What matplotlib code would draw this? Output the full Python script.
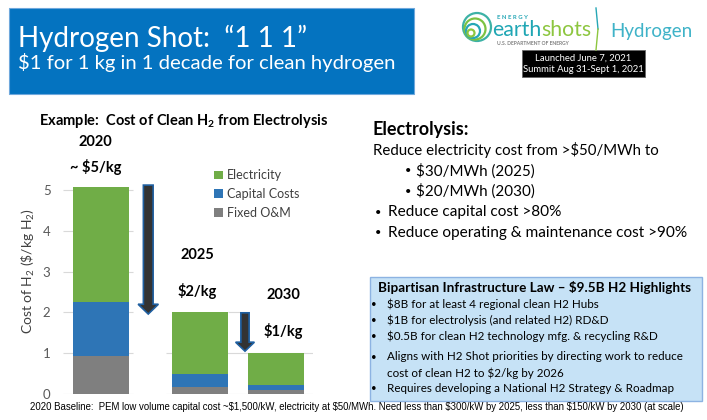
import matplotlib
matplotlib.use("Agg")
import matplotlib.pyplot as plt
import matplotlib.patches as patches

plt.rcParams['font.family'] = ['Lato', 'DejaVu Sans']
plt.rcParams['mathtext.fontset'] = 'custom'
plt.rcParams['mathtext.rm'] = 'Lato'
plt.rcParams['mathtext.bf'] = 'Lato:bold'
plt.rcParams['mathtext.it'] = 'Lato:italic'

# data
years = ['2020', '2025', '2030']
cost_labels = ['~ \\$5/kg', '\\$2/kg', '\\$1/kg']
fixed_om = [0.93, 0.18, 0.09]
capital = [1.32, 0.30, 0.13]
electricity = [2.82, 1.53, 0.79]
yticks = [0, 1, 2, 3, 4, 5]

electrolysis_lines = ['Reduce electricity cost from >\\$50/MWh to']
electrolysis_sub = ['\\$30/MWh (2025)', '\\$20/MWh (2030)']
electrolysis_bullets = ['Reduce capital cost >80%',
                        'Reduce operating & maintenance cost >90%']
law_title = 'Bipartisan Infrastructure Law \u2013 \\$9.5B H2 Highlights'
law_bullets = ['\\$8B for at least 4 regional clean H2 Hubs',
               '\\$1B for electrolysis (and related H2) RD&D',
               '\\$0.5B for clean H2 technology mfg. & recycling R&D',
               'Aligns with H2 Shot priorities by directing work to reduce\ncost of clean H2 to \\$2/kg by 2026',
               'Requires developing a National H2 Strategy & Roadmap']
footer = ('2020 Baseline:  PEM low volume capital cost ~\\$1,500/kW, electricity at \\$50/MWh. '
          'Need less than \\$300/kW by 2025, less than \\$150/kW by 2030 (at scale)')

W, H = 707, 420
fig = plt.figure(figsize=(W / 100, H / 100), dpi=100)

# slide background in pixel coordinates
bg = fig.add_axes([0, 0, 1, 1])
bg.set_xlim(0, W)
bg.set_ylim(H, 0)
bg.axis('off')

# header box
bg.add_patch(patches.Rectangle((9, 8), 405, 86, fc='#0473C0', ec='#6FA8DC', lw=0.8))
bg.text(18, 38, 'Hydrogen Shot:  \u201c1 1 1\u201d', color='white', fontsize=20, va='center')
bg.text(18, 63, '\\$1 for 1 kg in 1 decade for clean hydrogen', color='white', fontsize=14.6, va='center')

# earthshots logo
for cx, cy, r, col in [(477, 27, 14, '#3DB2A6'), (475, 29, 10.5, '#7CC242'),
                       (473, 31, 7, '#26A7B6'), (471, 33, 3.5, '#8DC63F')]:
    bg.add_patch(patches.Circle((cx, cy), r, fill=False, ec=col, lw=1.6))
bg.text(497, 17.5, 'E N E R G Y', color='#26A7B6', fontsize=4.3, fontweight='bold', va='center')
earth = bg.text(492, 36, 'earth', color='#1FA6B4', fontsize=15.3, va='baseline')
bg.annotate('shots', xy=(1, 0), xycoords=earth, color='#8DC63F', fontsize=15.3, va='bottom')
bg.text(497, 43.5, 'U.S. DEPARTMENT OF ENERGY', color='#808080', fontsize=3.6, fontweight='bold', va='center')
bg.plot([596, 598], [8, 29], color='#26A7B6', lw=1)
bg.plot([598, 596], [29, 50], color='#8DC63F', lw=1)
bg.text(610, 32, 'Hydrogen', color='#3FB3C8', fontsize=13.5, va='center')
bg.add_patch(patches.Rectangle((522, 50), 123, 27, fc='black', ec='#666666', lw=0.6))
bg.text(583.5, 58.5, 'Launched June 7, 2021', color='white', fontsize=6.8, ha='center', va='center')
bg.text(583.5, 70, 'Summit Aug 31-Sept 1, 2021', color='white', fontsize=6.8, ha='center', va='center')

# chart title
bg.text(184, 121, 'Example:  Cost of Clean H$_\\mathbf{2}$ from Electrolysis', fontsize=10.5,
        fontweight='bold', ha='center', va='center', color='black')

# right hand text
bg.text(373, 130, 'Electrolysis:', fontsize=13, fontweight='bold', va='center', color='black')
bg.text(373, 150, electrolysis_lines[0], fontsize=10.8, va='center', color='black')
for i, s in enumerate(electrolysis_sub):
    yy = 171 + i * 20.5
    bg.text(408, yy, '\u2022', fontsize=8, ha='center', va='center')
    bg.text(416, yy, s, fontsize=10.9, va='center')
for i, s in enumerate(electrolysis_bullets):
    yy = 212 + i * 21
    bg.text(378, yy, '\u2022', fontsize=8, ha='center', va='center')
    bg.text(388, yy, s, fontsize=11.1, va='center')

# light blue box
bg.add_patch(patches.Rectangle((370, 277), 332, 124, fc='#C6E2F6', ec='#8DB3E2', lw=1))
bg.text(534, 288, law_title, fontsize=9.7, fontweight='bold', ha='center', va='center')
law_y = [304, 320, 336, 365, 388]
for yy, s in zip(law_y, law_bullets):
    bg.text(374, yy if '\n' not in s else yy - 7.5, '\u2022', fontsize=7, ha='center', va='center')
    bg.text(387, yy, s, fontsize=8.4, va='center', linespacing=1.55)

bg.text(30, 407, footer, fontsize=6.9, family=['Liberation Sans', 'DejaVu Sans'], va='center')

# chart
px_unit = 75.0
x0_px = 101
ax_left, ax_right = 63, 313
y0_px, y_unit = 394, 40.8
ytop = 5.5
ax = fig.add_axes([ax_left / W, (H - y0_px) / H, (ax_right - ax_left) / W, ytop * y_unit / H])
ax.set_xlim((ax_left - x0_px) / px_unit, (ax_right - x0_px) / px_unit)
ax.set_ylim(0, ytop)
ax.patch.set_alpha(0)

xpos = [0, 1.32, 2.33]
width = 0.75
bottom2 = [a + b for a, b in zip(fixed_om, capital)]
b1 = ax.bar(xpos, fixed_om, width, color='#7F7F7F', label='Fixed O&M', zorder=2)
b2 = ax.bar(xpos, capital, width, bottom=fixed_om, color='#2E75B6', label='Capital Costs', zorder=2)
b3 = ax.bar(xpos, electricity, width, bottom=bottom2, color='#70AD47', label='Electricity', zorder=2)

# gridline pieces (the slide covers parts of them)
def xd(p):
    return (p - x0_px) / px_unit
for t in yticks:
    ax.hlines(t, xd(63), xd(133), color='#D9D9D9', lw=0.8, zorder=1)
    if t <= 1:
        ax.hlines(t, xd(166), xd(313), color='#D9D9D9', lw=0.8, zorder=1)
    if t == 2:
        ax.hlines(t, xd(228), xd(240), color='#D9D9D9', lw=0.8, zorder=1)

ax.set_yticks(yticks)
ax.set_xticks([])
ax.tick_params(axis='y', length=0, pad=9, labelsize=9.5, labelcolor='#595959')
for s in ax.spines.values():
    s.set_visible(False)
ax.set_ylabel('Cost of H$_2$ (\\$/kg H$_2$)', fontsize=10, color='#404040')
ax.yaxis.set_label_coords(-0.104, 0.55)

# arrows
ax.add_patch(patches.FancyArrow(0.63, 5.12, 0, -3.16, width=0.13, head_width=0.27, head_length=0.24,
                                length_includes_head=True, fc='#333333', ec='#1F5FA0', lw=1.2,
                                zorder=3, clip_on=False))
ax.add_patch(patches.FancyArrow(1.92, 1.99, 0, -0.94, width=0.11, head_width=0.25, head_length=0.22,
                                length_includes_head=True, fc='#333333', ec='#1F5FA0', lw=1.2,
                                zorder=3, clip_on=False))

# year / cost labels above bars
year_y = [6.18, 3.41, 2.43]
cost_y = [5.56, 2.52, 1.54]
label_dx = [-0.07, -0.04, 0.1]
for xp, dx, yr, c, yy, cy in zip(xpos, label_dx, years, cost_labels, year_y, cost_y):
    ax.text(xp + dx, yy, yr, fontsize=10.5, fontweight='bold', ha='center', va='center', clip_on=False)
    ax.text(xp + dx, cy, c, fontsize=10.5, fontweight='bold', ha='center', va='center', clip_on=False)

ax.legend(handles=[b3, b2, b1], loc='upper left', bbox_to_anchor=(203 / W, 1 - 158 / H),
          bbox_transform=fig.transFigure, frameon=False, fontsize=9, handlelength=0.7,
          handleheight=0.7, handletextpad=0.3, labelspacing=0.55, labelcolor='#404040')

fig.savefig('out.png', dpi=100)
